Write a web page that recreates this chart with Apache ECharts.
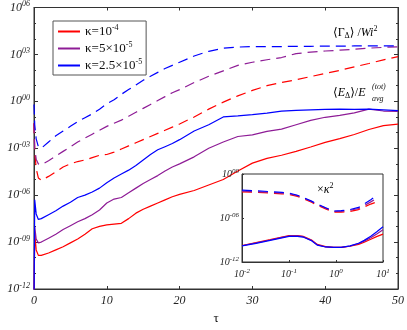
<!DOCTYPE html>
<html>
<head>
<meta charset="utf-8">
<script src="https://cdn.jsdelivr.net/npm/echarts@6/dist/echarts.min.js"></script>
<style>
html, body { margin: 0; padding: 0; background: #fff; }
#main { width: 407px; height: 330px; }
</style>
</head>
<body>
<div id="main"></div>
<script>
// main panel: tau and log10 of the curves (dashed = <Γ>/Wi^2, solid = <E>/E_avg)
const tau = [0, 0.1, 0.3, 0.6, 1, 2, 3, 4, 5, 6, 7, 8, 9, 10, 11, 12, 13, 14, 15, 16, 17, 18, 19, 20,
  22, 24, 26, 28, 30, 32, 34, 36, 38, 40, 42, 44, 46, 48, 50];

const gammaRed = [-1.4, -3.2, -4.3, -4.9, -5.05, -4.8, -4.5, -4.2, -4.0, -3.85, -3.75, -3.6, -3.45, -3.4,
  -3.25, -3.05, -2.85, -2.65, -2.45, -2.25, -2.05, -1.85, -1.65, -1.45,
  -1.0, -0.5, -0.05, 0.35, 0.7, 1.0, 1.2, 1.38, 1.58, 1.78, 1.98, 2.2, 2.42, 2.65, 2.86];
const gammaPurple = [-1.4, -3.0, -3.7, -4.0, -4.05, -3.8, -3.5, -3.2, -2.9, -2.6, -2.35, -2.1, -1.85, -1.6,
  -1.4, -1.2, -0.95, -0.7, -0.45, -0.2, 0.05, 0.3, 0.55, 0.75,
  1.2, 1.6, 1.95, 2.3, 2.5, 2.66, 2.8, 3.05, 3.15, 3.22, 3.27, 3.33, 3.4, 3.45, 3.49];
const gammaBlue = [-0.2, -1.5, -2.4, -2.9, -3.0, -2.6, -2.2, -1.9, -1.6, -1.3, -1.05, -0.8, -0.5, -0.15,
  0.1, 0.45, 0.75, 1.05, 1.35, 1.6, 1.85, 2.1, 2.3, 2.5,
  2.9, 3.2, 3.4, 3.47, 3.5, 3.5, 3.5, 3.52, 3.52, 3.53, 3.53, 3.54, 3.54, 3.55, 3.55];

const energyRed = [-13, -8.4, -9.5, -9.85, -9.85, -9.7, -9.5, -9.3, -9.05, -8.8, -8.5, -8.15, -8.0, -7.9,
  -7.85, -7.8, -7.5, -7.15, -6.9, -6.7, -6.5, -6.3, -6.1, -5.95,
  -5.7, -5.35, -5.0, -4.45, -3.95, -3.65, -3.45, -3.2, -2.92, -2.62, -2.38, -2.12, -1.8, -1.55, -1.46];
const energyPurple = [-13, -8.0, -8.8, -9.05, -9.0, -8.75, -8.5, -8.2, -7.95, -7.7, -7.5, -7.25, -6.95, -6.5,
  -6.25, -6.15, -5.85, -5.55, -5.25, -5.0, -4.75, -4.45, -4.2, -4.0,
  -3.55, -3.0, -2.6, -2.25, -2.15, -1.92, -1.78, -1.5, -1.22, -1.02, -0.9, -0.74, -0.5, -0.62, -0.65];
const energyBlue = [-13, -6.3, -7.2, -7.55, -7.5, -7.25, -7.0, -6.7, -6.45, -6.15, -6.0, -5.8, -5.55, -5.2,
  -4.9, -4.65, -4.4, -4.1, -3.75, -3.4, -3.1, -2.9, -2.7, -2.45,
  -1.9, -1.5, -1.0, -0.93, -0.85, -0.75, -0.63, -0.58, -0.55, -0.52, -0.5, -0.52, -0.5, -0.55, -0.6];

// inset: log10(tau) and log10 of the curves times kappa^2
const insetLgTau = [-2, -1.7, -1.4, -1.15, -1, -0.82, -0.7, -0.52, -0.4, -0.22, -0.05, 0.11, 0.3, 0.48,
  0.6, 0.74, 0.875, 1];
const insetGammaRed = [-2.45, -2.5, -2.6, -2.7, -2.8, -3.05, -3.35, -3.85, -4.25, -4.75, -5.2, -5.2, -5.1,
  -4.85, -4.5, -4.1, -3.8, null];
const insetGammaPurple = [-2.35, -2.42, -2.5, -2.6, -2.7, -2.95, -3.25, -3.75, -4.15, -4.65, -5.1, -5.1, -4.95,
  -4.7, -4.3, -3.8, -3.3, null];
const insetGammaBlue = [-2.2, -2.3, -2.4, -2.5, -2.6, -2.9, -3.2, -3.7, -4.1, -4.6, -5.05, -5.0, -4.85,
  -4.55, -4.1, -3.5, -2.86, null];
const insetEnergyRed = [-9.75, -9.35, -8.95, -8.6, -8.4, -8.4, -8.5, -9.0, -9.6, -9.9, -10.0, -10.0, -9.85,
  -9.6, -9.3, -8.9, -8.5, -8.2];
const insetEnergyPurple = [-9.78, -9.4, -9.0, -8.65, -8.45, -8.45, -8.55, -9.05, -9.65, -9.95, -10.0, -10.0, -9.82,
  -9.5, -9.15, -8.7, -8.15, -7.6];
const insetEnergyBlue = [-9.8, -9.45, -9.05, -8.7, -8.5, -8.5, -8.6, -9.1, -9.7, -9.95, -10.0, -10.0, -9.8,
  -9.45, -9.05, -8.5, -7.85, -7.2];

const legendNames = ["κ=1e-4", "κ=5e-5", "κ=2.5e-5"];
const legendLabels = {
  "κ=1e-4": "κ=10{s|-4}",
  "κ=5e-5": "κ=5×10{s|-5}",
  "κ=2.5e-5": "κ=2.5×10{s|-5}",
};

const RED = "#ff0000";
const PURPLE = "#8e1c96";
const BLUE = "#0000ff";
const SERIF = "Liberation Serif, DejaVu Serif, serif";

const supRich = {
  b: { fontFamily: SERIF, fontStyle: "italic", fontSize: 12, color: "#222" },
  s: { fontFamily: SERIF, fontStyle: "italic", fontSize: 8, color: "#222", padding: [0, 0, 7, 0] },
};
const supRichSmall = {
  b: { fontFamily: SERIF, fontStyle: "italic", fontSize: 10, color: "#222" },
  s: { fontFamily: SERIF, fontStyle: "italic", fontSize: 7, color: "#222", padding: [0, 0, 6, 0] },
};

function expLabel(v) {
  const n = Math.round(v);
  let e = String(Math.abs(n)).padStart(2, "0");
  if (n < 0) e = "-" + e;
  return "{b|10}{s|" + e + "}";
}

function line(name, xs, ys, color, dashed, idx, z) {
  return {
    name: name,
    type: "line",
    xAxisIndex: idx,
    yAxisIndex: idx,
    data: xs.map((x, i) => [x, ys[i]]),
    showSymbol: false,
    symbol: "none",
    smooth: false,
    connectNulls: false,
    z: z,
    lineStyle: {
      color: color,
      width: 1.2,
      type: dashed ? [10, 6] : "solid",
    },
    itemStyle: { color: color },
  };
}

const tickStyle = { lineStyle: { color: "#333", width: 1 } };
const axisLine = { onZero: false, lineStyle: { color: "#333" } };

const options = {
  animation: false,
  backgroundColor: "#fff",
  grid: [
    { left: 34, right: 7, top: 7, bottom: 36, show: true, borderColor: "#333", borderWidth: 1 },
    // inset
    { left: 242, right: 24, top: 174, bottom: 68, show: true, backgroundColor: "#fff",
      borderColor: "#333", borderWidth: 1, z: 5 },
  ],
  legend: {
    data: legendNames,
    orient: "vertical",
    left: 53,
    top: 21,
    itemWidth: 22,
    itemHeight: 2,
    itemGap: 3,
    padding: [3, 4, 3, 5],
    icon: "rect",
    backgroundColor: "#fff",
    borderColor: "#555",
    borderWidth: 1,
    borderRadius: 0,
    z: 20,
    formatter: (name) => legendLabels[name],
    textStyle: {
      fontFamily: SERIF,
      fontSize: 13,
      color: "#111",
      rich: {
        s: { fontFamily: SERIF, fontSize: 8, color: "#111", padding: [0, 0, 7, 0] },
      },
    },
  },
  xAxis: [
    {
      type: "value", gridIndex: 0, min: 0, max: 50, interval: 10,
      name: "τ", nameLocation: "middle", nameGap: 23,
      nameTextStyle: { fontFamily: SERIF, fontSize: 13, color: "#111" },
      axisLine: axisLine,
      axisTick: Object.assign({ inside: true, length: 3 }, tickStyle),
      axisLabel: { fontFamily: SERIF, fontStyle: "italic", fontSize: 12, color: "#222", margin: 6 },
      splitLine: { show: false },
    },
    {
      type: "value", gridIndex: 0, min: 0, max: 50, interval: 10, position: "top",
      axisLine: axisLine,
      axisTick: Object.assign({ inside: true, length: 3 }, tickStyle),
      axisLabel: { show: false },
      splitLine: { show: false },
    },
    {
      type: "value", gridIndex: 1, min: -2, max: 1, interval: 1, z: 6, position: "bottom",
      axisLine: axisLine,
      axisTick: Object.assign({ inside: true, length: 2 }, tickStyle),
      axisLabel: { formatter: (v) => "{b|10}{s|" + v + "}", rich: supRichSmall, margin: 6 },
      splitLine: { show: false },
    },
  ],
  yAxis: [
    {
      type: "value", gridIndex: 0, min: -12, max: 6, interval: 3, position: "left",
      axisLine: axisLine,
      axisTick: Object.assign({ inside: true, length: 4 }, tickStyle),
      minorTick: { show: true, splitNumber: 3, length: 2, lineStyle: { color: "#333" } },
      axisLabel: { formatter: expLabel, rich: supRich, margin: 4 },
      splitLine: { show: false },
    },
    {
      type: "value", gridIndex: 0, min: -12, max: 6, interval: 3, position: "right",
      axisLine: axisLine,
      axisTick: Object.assign({ inside: true, length: 4 }, tickStyle),
      minorTick: { show: true, splitNumber: 3, length: 2, lineStyle: { color: "#333" } },
      axisLabel: { show: false },
      splitLine: { show: false },
    },
    {
      type: "value", gridIndex: 1, min: -12, max: 0, interval: 6, z: 6, position: "left",
      axisLine: axisLine,
      axisTick: Object.assign({ inside: true, length: 2 }, tickStyle),
      axisLabel: { formatter: expLabel, rich: supRichSmall, margin: 3 },
      splitLine: { show: false },
    },
  ],
  series: [
    line("κ=1e-4", tau, energyRed, RED, false, 0, 2),
    line("κ=5e-5", tau, energyPurple, PURPLE, false, 0, 2),
    line("κ=2.5e-5", tau, energyBlue, BLUE, false, 0, 2),
    line("gRed", tau, gammaRed, RED, true, 0, 2),
    line("gPurple", tau, gammaPurple, PURPLE, true, 0, 2),
    line("gBlue", tau, gammaBlue, BLUE, true, 0, 2),
    line("iRed", insetLgTau, insetEnergyRed, RED, false, 2, 8),
    line("iPurple", insetLgTau, insetEnergyPurple, PURPLE, false, 2, 8),
    line("iBlue", insetLgTau, insetEnergyBlue, BLUE, false, 2, 8),
    line("igRed", insetLgTau, insetGammaRed, RED, true, 2, 8),
    line("igPurple", insetLgTau, insetGammaPurple, PURPLE, true, 2, 8),
    line("igBlue", insetLgTau, insetGammaBlue, BLUE, true, 2, 8),
  ],
  graphic: [
    {
      type: "text", left: 333, top: 25, z: 20,
      style: {
        text: "{n|⟨Γ}{d|Δ}{n|⟩ /}{i|Wi}{s|2}",
        rich: {
          n: { fontFamily: SERIF, fontSize: 12, color: "#111" },
          i: { fontFamily: SERIF, fontStyle: "italic", fontSize: 12, color: "#111" },
          d: { fontFamily: SERIF, fontSize: 8, color: "#111", padding: [6, 0, 0, 0] },
          s: { fontFamily: SERIF, fontSize: 8, color: "#111", padding: [0, 0, 7, 0] },
        },
      },
    },
    {
      type: "text", left: 333, top: 87, z: 20,
      style: {
        text: "{n|⟨}{i|E}{d|Δ}{n|⟩/}{i|E}",
        rich: {
          n: { fontFamily: SERIF, fontSize: 12, color: "#111" },
          i: { fontFamily: SERIF, fontStyle: "italic", fontSize: 12, color: "#111" },
          d: { fontFamily: SERIF, fontSize: 8, color: "#111", padding: [6, 0, 0, 0] },
        },
      },
    },
    {
      type: "text", left: 372, top: 83, z: 20,
      style: { text: "(tot)", fontFamily: SERIF, fontStyle: "italic", fontSize: 8, fill: "#111" },
    },
    {
      type: "text", left: 372, top: 95, z: 20,
      style: { text: "avg", fontFamily: SERIF, fontStyle: "italic", fontSize: 8, fill: "#111" },
    },
    {
      type: "text", left: 317, top: 182, z: 20,
      style: {
        text: "{n|×}{i|κ}{s|2}",
        rich: {
          n: { fontFamily: SERIF, fontSize: 12, color: "#111" },
          i: { fontFamily: SERIF, fontStyle: "italic", fontSize: 12, color: "#111" },
          s: { fontFamily: SERIF, fontSize: 8, color: "#111", padding: [0, 0, 7, 0] },
        },
      },
    },
  ],
};

const chart = echarts.init(document.getElementById("main"));
chart.setOption(options);
</script>
</body>
</html>
